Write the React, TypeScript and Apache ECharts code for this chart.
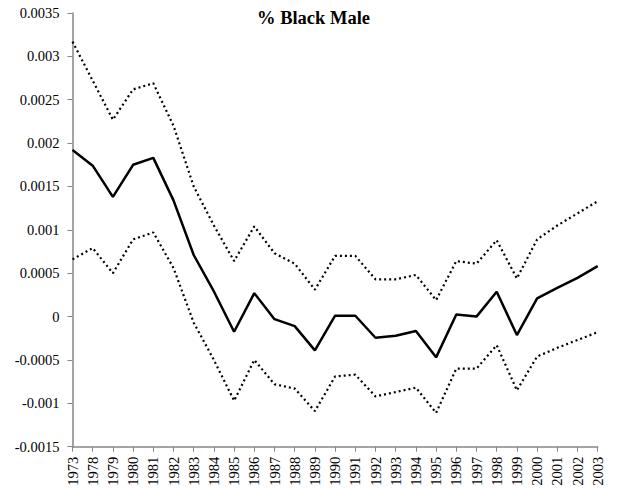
import React, { useEffect, useRef } from "react";
import * as echarts from "echarts";

const years = ["1973","1978","1979","1980","1981","1982","1983","1984","1985","1986","1987","1988","1989","1990","1991","1992","1993","1994","1995","1996","1997","1998","1999","2000","2001","2002","2003"];

const estimate = [0.00192,0.00174,0.00138,0.00175,0.00183,0.00134,0.00071,0.00029,-0.000175,0.00027,-0.00003,-0.00011,-0.00039,0.00001,0.00001,-0.000244,-0.00022,-0.000167,-0.00047,0.000025,0.0,0.000286,-0.000213,0.00021,0.00033,0.000447,0.000582];

const upper = [0.00317,0.00272,0.00227,0.00262,0.00269,0.0022,0.0015,0.00105,0.00064,0.00104,0.00073,0.00061,0.00031,0.0007,0.0007,0.00043,0.00043,0.00048,0.00019,0.00064,0.00061,0.00088,0.00044,0.00089,0.00105,0.00119,0.00133];

const lower = [0.00066,0.00079,0.0005,0.00089,0.00097,0.00056,-0.00007,-0.0005,-0.00097,-0.0005,-0.00078,-0.00083,-0.00109,-0.00069,-0.00067,-0.00092,-0.00087,-0.00082,-0.00111,-0.0006,-0.0006,-0.00033,-0.00085,-0.00046,-0.00036,-0.00027,-0.00018];

const yTickLabels: Record<string, string> = {
  "-0.0015": "-0.0015", "-0.001": "-0.001", "-0.0005": "-0.0005", "0": "0",
  "0.0005": "0.0005", "0.001": "0.001", "0.0015": "0.0015", "0.002": "0.002",
  "0.0025": "0.0025", "0.003": "0.003", "0.0035": "0.0035",
};

const FONT = "Liberation Serif, Times New Roman, serif";

export default function App() {
  const ref = useRef<HTMLDivElement>(null);
  useEffect(() => {
    if (!ref.current) return;
    const chart = echarts.init(ref.current, undefined, { renderer: "svg" });
    chart.setOption({
      animation: false,
      backgroundColor: "#ffffff",
      textStyle: { fontFamily: FONT },
      title: {
        text: "% Black Male",
        left: 252,
        top: 3,
        textStyle: { fontFamily: FONT, fontWeight: "bold", fontSize: 18.5, color: "#000" },
      },
      grid: { left: 72.5, right: 19.3, top: 13, bottom: 44.3, containLabel: false },
      xAxis: {
        type: "category",
        data: years,
        boundaryGap: false,
        axisLine: { onZero: false, lineStyle: { color: "#868686", width: 1.5 } },
        axisTick: { show: true, alignWithLabel: true, length: 5, lineStyle: { color: "#868686" } },
        axisLabel: { rotate: 90, interval: 0, fontFamily: FONT, fontSize: 14.5, color: "#000", margin: 10 },
        splitLine: { show: false },
      },
      yAxis: {
        type: "value",
        min: -0.0015,
        max: 0.0035,
        interval: 0.0005,
        axisLine: { show: true, lineStyle: { color: "#868686", width: 1.5 } },
        axisTick: { show: true, length: 5, lineStyle: { color: "#868686" } },
        axisLabel: {
          fontFamily: FONT, fontSize: 14.5, color: "#000", margin: 13,
          formatter: (v: number) => {
            const k = String(Number(v.toFixed(4)));
            return yTickLabels[k] ?? k;
          },
        },
        splitLine: { show: false },
      },
      series: [
        { name: "upper", type: "line", data: upper, symbol: "none", lineStyle: { color: "#000", width: 2.2, type: [2, 3] } },
        { name: "estimate", type: "line", data: estimate, symbol: "none", lineStyle: { color: "#000", width: 2.5 } },
        { name: "lower", type: "line", data: lower, symbol: "none", lineStyle: { color: "#000", width: 2.2, type: [2, 3] } },
      ],
    });
    return () => chart.dispose();
  }, []);
  return <div ref={ref} style={{ width: 617, height: 491, position: "absolute", left: 0, top: 0 }} />;
}
